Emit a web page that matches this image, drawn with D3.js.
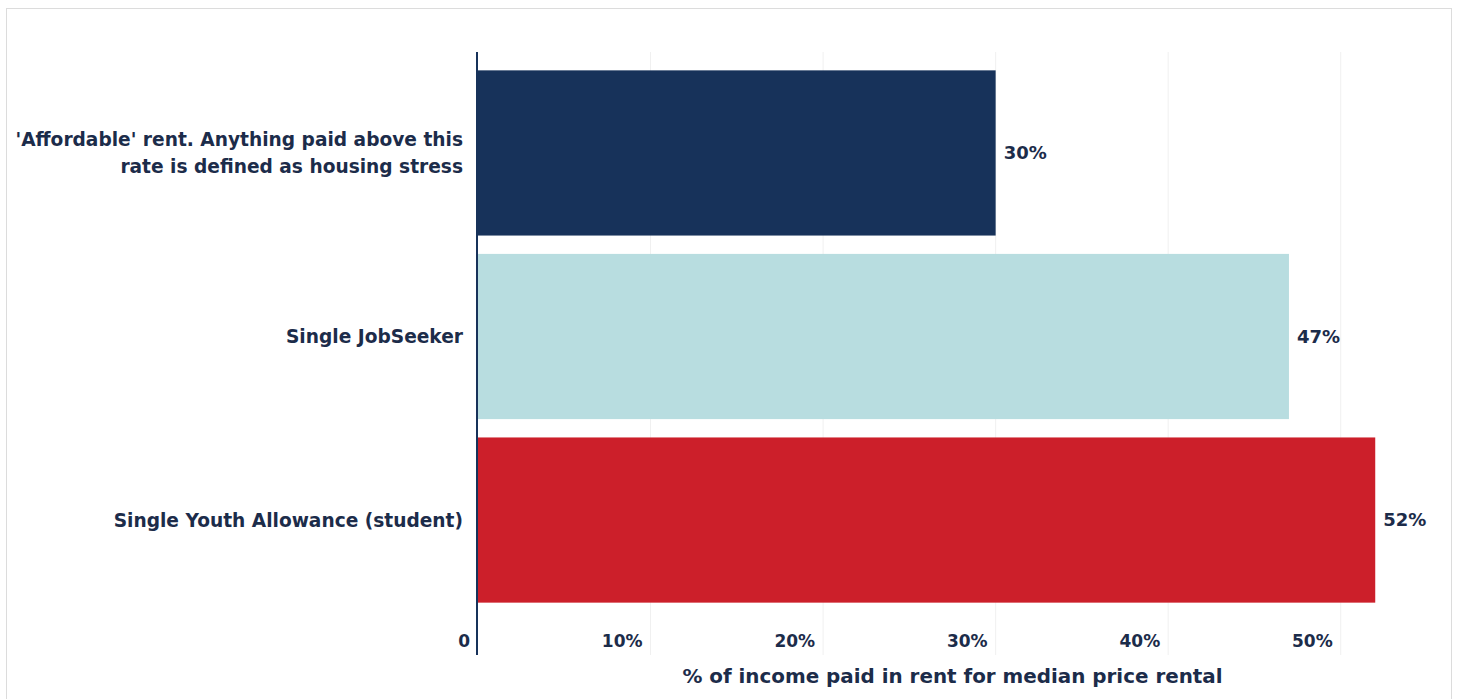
<!DOCTYPE html>
<html>
<head>
<meta charset="utf-8">
<script src="https://cdn.jsdelivr.net/npm/d3@7"></script>
<style>
  body { margin: 0; background: #fff; }
  svg text { font-family: "DejaVu Sans", sans-serif; font-weight: bold; fill: #1c2c4a; }
</style>
</head>
<body>
<svg id="chart" width="1458" height="699"></svg>
<script>
var categories = ["'Affordable' rent. Anything paid above this|rate is defined as housing stress", "Single JobSeeker", "Single Youth Allowance (student)"]; //bar labels, | = line break
var values = [30, 47, 52]; //% of income
var barColors = ["#17325a", "#b8dde0", "#cc1f2a"];
var tickValues = [0, 10, 20, 30, 40, 50];
var tickLabels = ["0", "10%", "20%", "30%", "40%", "50%"];
var xTitle = "% of income paid in rent for median price rental";

var svg = d3.select("#chart");

// frame round the chart
svg.append("rect")
    .attr("x", 6.5).attr("y", 8.5)
    .attr("width", 1445).attr("height", 700)
    .attr("fill", "none")
    .attr("stroke", "#dcdcdc");

var plotLeft = 478, plotRight = 1427, plotTop = 52, plotBottom = 621, axisBottom = 655;

var x = d3.scaleLinear().domain([0, 55]).range([plotLeft, plotRight]);
var y = d3.scaleBand().domain(categories).range([plotTop, plotBottom]).paddingInner(0.1).paddingOuter(0.1);

// gridlines
svg.append("g").selectAll("line")
    .data(tickValues.slice(1))
    .enter().append("line")
    .attr("x1", d => x(d)).attr("x2", d => x(d))
    .attr("y1", plotTop).attr("y2", axisBottom)
    .attr("stroke", "#f0f0f0");

// bars
svg.append("g").selectAll("rect")
    .data(values)
    .enter().append("rect")
    .attr("x", x(0))
    .attr("y", (d, i) => y(categories[i]))
    .attr("width", d => x(d) - x(0))
    .attr("height", y.bandwidth())
    .attr("fill", (d, i) => barColors[i]);

// value labels
svg.append("g").selectAll("text")
    .data(values)
    .enter().append("text")
    .attr("x", d => x(d) + 8)
    .attr("y", (d, i) => y(categories[i]) + y.bandwidth() / 2)
    .attr("dy", "0.35em")
    .style("font-size", "18px")
    .text(d => d + "%");

// category labels
var catText = svg.append("g").selectAll("text")
    .data(categories)
    .enter().append("text")
    .attr("text-anchor", "end")
    .attr("y", d => y(d) + y.bandwidth() / 2)
    .style("font-size", "18.6px");

catText.each(function (d) {
    var lines = d.split("|");
    var t = d3.select(this);
    lines.forEach(function (line, j) {
        t.append("tspan")
            .attr("x", 463)
            .attr("dy", j === 0 ? (0.35 - (lines.length - 1) * 0.73) + "em" : "1.46em")
            .text(line);
    });
});

// tick labels
svg.append("g").selectAll("text")
    .data(tickValues)
    .enter().append("text")
    .attr("x", d => x(d) - 8)
    .attr("y", 641)
    .attr("dy", "0.35em")
    .attr("text-anchor", "end")
    .style("font-size", "17px")
    .text((d, i) => tickLabels[i]);

// y axis line
svg.append("line")
    .attr("x1", x(0) - 1).attr("x2", x(0) - 1)
    .attr("y1", plotTop).attr("y2", axisBottom)
    .attr("stroke", "#17325a")
    .attr("stroke-width", 2);

// x axis title
svg.append("text")
    .attr("x", (plotLeft + plotRight) / 2)
    .attr("y", 676)
    .attr("dy", "0.35em")
    .attr("text-anchor", "middle")
    .style("font-size", "19.9px")
    .text(xTitle);
</script>
</body>
</html>
